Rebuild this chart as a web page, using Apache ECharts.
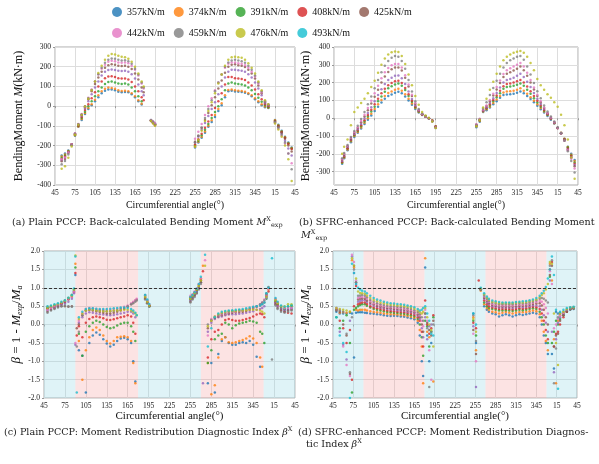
<!DOCTYPE html>
<html>
<head>
<meta charset="utf-8">
<script src="https://cdn.jsdelivr.net/npm/echarts@6/dist/echarts.min.js"></script>
<style>html,body{margin:0;background:#fff}#chart{width:599px;height:464px}</style>
</head>
<body>
<div id="chart"></div>
<script>
// angles are unwrapped: 375 means 15°, 400 means 40°
const angA = [
	55,60,65,70,75,80,85,90,95,100,105,110,115,120,125,130,135,140,145,150,155,160,165,170,175,178,
	189,192,195,
	255,260,265,270,275,280,285,290,295,300,305,310,315,320,325,330,335,340,345,350,355,360,365,
	375,380,385,390,395,400,
]
const a357 = [
	-250,-240,-225,-195,-150,-105,-70,-40,-15,5,25,45,65,78,85,84,80,73,70,72,70,60,45,25,8,null,
	-70,-78,-88,
	-210,-185,-160,-135,-105,-80,-55,-25,5,45,75,78,74,73,72,68,62,50,35,20,5,-5,-10,
	-70,-95,-125,-155,-185,-210,
]
const a374 = [
	-255,-245,-228,-195,-148,-103,-65,-35,-10,10,32,55,75,88,94,92,88,80,77,78,75,65,50,30,12,null,
	-72,-82,-92,
	-205,-180,-155,-128,-100,-72,-45,-15,15,55,82,85,80,78,77,73,66,55,40,25,10,-2,-8,
	-72,-97,-128,-158,-188,-212,
]
const a391 = [
	-262,-250,-230,-195,-145,-100,-60,-28,0,25,50,75,95,112,122,125,120,115,112,115,110,95,75,50,25,null,
	-74,-84,-95,
	-200,-175,-148,-120,-90,-60,-30,0,35,80,115,120,115,112,110,105,95,80,62,42,22,5,-5,
	-75,-100,-130,-160,-190,-215,
]
const a408 = [
	-268,-255,-232,-195,-142,-98,-55,-20,10,40,70,100,125,142,150,152,148,142,140,140,135,122,100,75,45,30,
	-75,-85,-97,
	-195,-168,-140,-110,-78,-45,-10,25,65,110,148,148,142,140,138,132,120,105,85,60,35,10,0,
	-78,-102,-132,-162,-192,-218,
]
const aPurple = [
	-275,-262,-235,-195,-140,-95,-50,-12,25,60,95,125,155,175,183,186,183,180,178,180,175,162,140,110,75,55,
	-72,-80,-90,
	-185,-155,-120,-85,-50,-15,20,60,100,145,175,185,185,182,180,175,162,145,120,90,55,15,3,
	-80,-108,-140,-175,-215,-250,
]
const a425 = [
	-280,-268,-238,-196,-140,-93,-45,-5,35,75,112,145,175,195,208,212,210,205,204,205,200,188,165,135,95,70,
	-73,-82,-92,
	-180,-150,-110,-70,-35,5,45,90,130,170,200,210,212,208,205,198,185,165,140,105,65,20,5,
	-80,-105,-135,-165,-200,-230,
]
const a442 = [
	-270,-260,-235,-195,-138,-90,-40,0,42,85,125,160,190,210,225,230,228,222,220,222,218,205,185,155,115,90,
	-70,-78,-86,
	-165,-130,-90,-45,0,40,80,120,160,195,215,222,222,218,215,208,195,175,150,115,70,25,8,
	-85,-115,-150,-190,-240,-290,
]
const a459 = [
	-295,-278,-245,-198,-140,-92,-42,0,40,82,125,162,195,220,235,242,240,235,232,233,228,215,190,160,120,95,
	-72,-82,-95,
	-185,-150,-110,-60,-15,30,75,120,160,200,222,232,235,232,228,220,205,185,155,120,75,25,8,
	-82,-110,-145,-185,-240,-320,
]
const a476 = [
	-318,-305,-262,-205,-145,-95,-45,-2,38,80,125,168,205,235,255,265,262,255,250,248,240,225,200,165,125,100,
	-75,-88,-100,
	-205,-170,-125,-75,-25,20,65,115,160,205,235,248,250,248,245,235,218,195,165,125,80,30,10,
	-88,-118,-155,-200,-270,-380,
]
const a493 = []

const angB = [
	57,60,65,70,75,80,85,90,95,100,105,110,115,120,125,130,135,140,145,150,155,160,165,170,175,180,185,190,195,
	255,260,265,270,275,280,285,290,295,300,305,310,315,320,325,330,335,340,345,350,355,360,365,370,375,380,385,390,395,400,
]
const b357 = [
	-255,-225,-180,-135,-105,-82,-58,-32,-8,15,40,65,88,110,125,133,143,148,140,122,100,75,52,32,18,8,0,-12,-45,
	-50,-20,35,45,60,78,95,115,130,133,135,138,143,150,140,125,108,90,70,50,32,12,-8,-30,-55,-82,-115,-160,-200,-235,
]
const b374 = [
	-250,-220,-175,-130,-100,-78,-52,-25,0,25,52,78,102,125,142,150,160,165,155,135,110,82,57,35,20,10,0,-12,-45,
	-45,-15,38,50,65,85,105,125,145,150,152,155,160,168,155,138,118,98,78,58,38,18,-5,-28,-55,-82,-115,-162,-205,-240,
]
const b391 = [
	-248,-218,-170,-125,-95,-72,-45,-18,10,38,65,95,122,148,168,180,190,195,182,158,125,92,62,38,22,10,0,-15,-48,
	-42,-12,40,55,72,95,118,140,165,175,178,182,188,195,182,160,138,112,88,65,42,20,-3,-27,-55,-84,-118,-165,-210,-248,
]
const b408 = [
	-245,-215,-168,-122,-92,-68,-40,-12,18,48,78,110,140,165,185,198,207,210,198,170,135,98,66,40,22,10,0,-15,-48,
	-40,-10,42,58,78,102,128,155,180,192,195,200,207,215,200,178,152,125,98,72,46,22,-2,-26,-55,-85,-120,-170,-212,-255,
]
const bPurple = [
	-240,-210,-162,-118,-88,-62,-32,-2,30,62,95,130,163,192,215,228,238,240,225,192,150,108,72,42,22,10,0,-15,-50,
	-38,-8,44,62,85,112,142,172,200,215,220,228,238,250,232,205,175,142,110,80,52,25,0,-25,-55,-85,-122,-175,-218,-262,
]
const b425 = [
	-235,-205,-158,-115,-82,-55,-22,10,45,82,120,160,200,235,260,275,285,285,268,228,178,125,80,45,22,10,0,-15,-50,
	-35,-5,46,68,95,128,162,198,232,250,258,268,278,290,270,238,200,162,125,90,58,28,2,-24,-55,-86,-125,-178,-222,-270,
]
const b442 = [
	-230,-200,-155,-110,-78,-50,-15,20,58,98,140,182,225,258,282,298,305,305,285,242,190,132,85,47,24,10,0,-15,-52,
	-35,-5,48,72,102,138,175,212,248,270,280,290,300,310,290,255,215,172,132,95,60,30,4,-22,-55,-86,-126,-180,-228,-282,
]
const b459 = [
	-225,-195,-150,-105,-72,-42,-5,35,78,122,168,215,258,295,322,340,350,345,322,278,215,150,95,52,26,12,0,-18,-55,
	-40,-8,55,90,130,170,210,250,285,310,325,335,345,350,328,290,245,198,152,112,72,38,10,-18,-50,-84,-126,-185,-240,-305,
]
const b476 = [
	-200,-160,-120,-40,35,60,85,110,140,175,210,255,300,335,358,370,375,372,350,305,245,185,125,75,35,15,2,-18,-55,
	-45,-10,60,110,160,205,250,290,325,345,358,368,374,378,368,345,310,270,220,185,160,135,115,90,65,20,-40,-120,-220,-340,
]
const b493 = []

const angC = [
	50,55,60,65,70,75,80,85,
	88,90,92,
	95,100,105,110,115,120,125,130,135,140,145,150,155,160,165,170,173,176,178,
	190,193,196,
	255,258,261,264,267,270,273,276,
	280,285,290,295,300,305,310,315,320,325,330,335,340,345,350,355,358,361,
	364,367,372,
	377,380,385,390,395,400,
]
const c357 = [
	0.45,0.47,0.5,0.53,0.57,0.62,0.7,0.8,
	0.9,1.35,null,
	-0.7,-0.85,-1.85,-0.5,-0.3,-0.22,-0.28,-0.4,-0.52,-0.6,-0.55,-0.45,-0.38,-0.36,-0.4,-0.5,-1.0,-1.55,null,
	0.8,0.65,0.5,
	0.7,0.75,0.82,0.9,1.0,1.15,null,null,
	-1.6,-1.05,-1.85,-0.8,-0.45,-0.35,-0.5,-0.55,-0.55,-0.5,-0.48,-0.5,-0.45,-0.55,-0.88,-1.15,null,null,
	0.75,null,null,
	0.65,0.58,0.45,0.4,0.42,0.45,
]
const c374 = [
	0.48,0.5,0.52,0.55,0.58,0.63,0.72,0.8,
	0.95,1.65,null,
	-0.45,-1.5,-0.7,-0.35,-0.15,-0.08,-0.15,-0.3,-0.45,-0.52,-0.45,-0.35,-0.33,-0.32,-0.35,-0.45,-1.05,-1.6,null,
	0.78,0.62,0.52,
	0.72,0.78,0.85,0.95,1.05,1.25,1.6,null,
	-1.05,-1.9,-1.65,-0.9,-0.4,-0.35,-0.48,-0.5,-0.48,-0.45,-0.42,-0.38,-0.32,-0.38,-0.5,-0.9,-1.15,null,
	0.8,0.95,null,
	0.68,0.6,0.5,0.45,0.48,0.5,
]
const c391 = [
	0.44,0.47,0.5,0.53,0.57,0.62,0.7,0.78,
	0.92,1.55,null,
	-0.25,-0.85,-0.2,-0.05,0.05,0.1,0.07,0.0,-0.07,-0.1,-0.08,-0.03,0.02,0.05,0.05,-0.05,-0.2,-0.45,null,
	0.75,0.6,0.5,
	0.68,0.75,0.82,0.92,1.02,1.2,null,null,
	-1.05,-0.7,-0.4,-0.3,-0.25,0.05,0.0,-0.1,-0.02,0.03,0.05,0.07,0.1,0.08,0.05,-0.2,-0.25,-0.5,
	0.7,null,null,
	0.62,0.55,0.45,0.42,0.48,0.52,
]
const c408 = [
	0.42,0.45,0.49,0.52,0.56,0.6,0.68,0.75,
	0.88,1.4,-0.3,
	-0.05,-0.35,0.05,0.15,0.2,0.22,0.2,0.17,0.13,0.12,0.14,0.17,0.2,0.22,0.25,0.22,0.05,-0.25,null,
	0.72,0.6,0.52,
	0.75,0.8,0.88,0.95,1.08,1.22,1.45,null,
	-0.9,-0.4,-0.2,-0.15,0.0,0.12,0.15,0.12,0.1,0.1,0.12,0.15,0.18,0.22,0.27,0.3,0.28,0.2,
	0.78,0.9,null,
	0.6,0.52,0.4,0.35,0.32,0.3,
]
const cPurple = [
	0.38,0.42,0.46,0.5,0.53,0.57,0.62,0.7,
	0.85,-0.55,null,
	0.05,0.2,0.3,0.33,0.32,0.3,0.28,0.27,0.26,0.25,0.26,0.28,0.3,0.32,0.35,0.35,0.3,0.2,null,
	null,null,null,
	0.65,0.72,0.8,0.88,1.0,null,-1.6,null,
	-0.2,0.05,0.15,0.2,0.22,0.25,0.27,0.28,0.28,0.29,0.3,0.32,0.34,0.36,0.4,0.42,0.45,0.5,
	0.72,null,null,
	0.58,0.5,0.42,0.38,0.4,0.42,
]
const c425 = [
	0.35,0.4,0.44,0.48,0.5,0.5,0.48,0.5,
	null,null,-0.1,
	0.0,0.25,0.38,0.4,0.38,0.36,0.34,0.32,0.3,0.3,0.32,0.35,0.38,0.42,0.48,0.55,0.6,0.65,0.68,
	0.7,0.58,0.5,
	0.62,0.7,0.78,0.85,0.98,1.15,null,null,
	-0.1,0.1,0.18,0.22,0.25,0.28,0.3,0.32,0.33,0.34,0.35,0.37,0.4,0.43,0.48,0.52,0.56,0.6,
	0.85,1.0,null,
	0.55,0.45,0.38,0.35,0.38,0.4,
]
const c442 = [
	0.4,0.45,0.5,0.55,0.6,0.65,0.7,0.75,
	0.9,-0.5,null,
	0.1,0.3,0.42,0.45,0.44,0.42,0.4,0.4,0.4,0.4,0.42,0.43,0.45,0.48,0.52,0.58,0.62,0.66,0.7,
	0.78,0.65,0.55,
	0.78,0.82,0.9,0.98,1.1,1.25,null,1.75,
	-0.3,0.15,0.22,0.25,0.28,0.3,0.33,0.35,0.35,0.37,0.38,0.4,0.42,0.46,0.5,0.55,0.6,0.68,
	0.8,0.97,null,
	0.7,0.6,0.5,0.45,0.45,0.45,
]
const c459 = [
	0.32,0.38,0.42,0.46,0.5,0.52,0.5,0.48,
	null,null,-0.6,
	-0.2,0.25,0.38,0.4,0.4,0.39,0.38,0.37,0.36,0.36,0.37,0.39,0.42,0.45,0.5,0.55,0.58,0.62,0.65,
	0.68,0.58,0.5,
	0.6,0.68,0.75,0.85,0.95,1.1,null,null,
	0.0,0.12,0.2,0.26,0.3,0.32,0.35,0.36,0.37,0.38,0.39,0.41,0.43,0.46,0.5,0.55,0.6,0.65,
	0.82,1.02,-0.95,
	0.52,0.42,0.35,0.32,0.35,0.38,
]
const c476 = [
	0.45,0.5,0.53,0.56,0.6,0.65,0.72,0.78,
	0.95,1.88,null,
	0.15,0.3,0.38,0.4,0.4,0.38,0.37,0.36,0.36,0.37,0.38,0.38,0.39,0.4,0.4,0.38,0.35,0.3,0.25,
	0.75,0.62,0.52,
	0.7,0.78,0.85,0.95,1.05,1.2,null,1.6,
	-0.05,0.1,0.22,0.28,0.32,0.35,0.36,0.37,0.37,0.38,0.38,0.39,0.4,0.4,0.4,0.38,0.35,0.3,
	0.75,null,null,
	0.65,0.58,0.5,0.5,0.55,0.55,
]
const c493 = [
	0.5,0.52,0.55,0.58,0.62,0.66,0.73,0.8,
	0.98,1.85,-1.85,
	0.2,0.35,0.42,0.44,0.44,0.43,0.42,0.42,0.42,0.43,0.44,0.45,0.46,0.46,0.45,0.42,0.38,0.32,0.25,
	0.8,0.68,0.56,
	0.75,0.8,0.88,0.97,1.1,1.3,null,1.9,
	-0.6,-0.1,0.2,0.3,0.35,0.37,0.38,0.39,0.4,0.41,0.42,0.44,0.46,0.48,0.5,0.52,0.55,0.6,
	0.85,1.0,1.8,
	0.72,0.62,0.52,0.48,0.5,0.52,
]

const angD = [
	50,55,60,65,70,73,76,79,82,85,88,
	92,95,100,105,110,115,120,125,130,135,140,145,150,155,160,165,170,173,176,178,
	181,184,187,190,193,
	252,256,260,263,
	268,272,275,280,285,290,295,300,305,310,315,320,325,330,335,340,345,350,353,356,359,362,
	365,368,371,374,377,380,385,390,395,400,
]
const d357 = [
	0.35,0.3,0.3,0.3,0.32,0.3,-0.9,0.32,0.33,0.33,0.33,
	0.32,0.31,0.3,0.29,0.28,0.27,0.25,0.24,0.23,0.24,0.23,0.22,0.21,0.19,0.17,0.14,0.05,-0.3,-1.0,-1.4,
	1.55,-0.3,-1.0,-0.5,null,
	0.3,-0.5,null,0.95,
	0.5,0.4,0.35,0.3,0.28,0.22,0.25,0.28,0.25,0.22,0.25,0.28,0.26,0.28,0.3,0.32,0.3,0.2,0.0,-0.3,-0.5,-0.8,
	null,-0.8,-1.2,0.35,0.3,0.32,0.3,0.35,0.4,0.42,
]
const d374 = [
	0.4,0.32,0.33,0.32,0.35,1.75,1.55,0.4,0.38,0.4,0.4,
	0.4,0.38,0.36,0.34,0.33,0.32,0.3,0.29,0.28,0.28,0.27,0.26,0.25,0.23,0.21,0.18,0.1,-0.15,-0.6,-1.6,
	1.8,-0.2,-0.35,null,-1.55,
	0.2,-0.7,null,0.92,
	0.55,0.45,0.4,0.35,0.33,0.3,0.32,0.34,0.32,0.3,0.32,0.34,0.33,0.34,0.36,0.38,0.36,0.28,0.1,-0.2,-0.45,-0.7,
	1.65,1.2,-0.4,-1.6,0.1,0.25,0.3,0.38,0.42,0.44,
]
const d391 = [
	0.2,-0.1,0.1,0.25,-0.5,-1.85,0.4,0.45,0.5,0.53,0.55,
	0.55,0.51,0.46,0.42,0.4,0.38,0.36,0.34,0.33,0.32,0.31,0.3,0.29,0.27,0.25,0.22,0.15,0.0,-0.35,-0.85,
	0.1,-0.05,-0.6,-0.2,0.2,
	0.1,-0.3,null,0.95,
	0.6,0.5,0.45,0.42,0.4,0.38,0.38,0.39,0.38,0.37,0.38,0.4,0.39,0.4,0.42,0.44,0.42,0.35,0.2,0.0,-0.3,-0.5,
	1.3,-0.5,-0.2,0.1,0.0,0.15,0.25,0.35,0.42,0.45,
]
const d408 = [
	0.42,0.1,-0.1,-0.5,-0.15,-1.5,0.5,1.05,0.55,0.58,0.6,
	0.6,0.56,0.5,0.46,0.44,0.42,0.4,0.38,0.37,0.36,0.35,0.34,0.33,0.31,0.29,0.26,0.2,0.1,-0.2,-0.6,
	0.65,0.0,-0.25,-0.1,0.25,
	0.05,-0.1,1.2,0.97,
	0.65,0.55,0.5,0.46,0.44,0.42,0.42,0.42,0.42,0.41,0.42,0.44,0.43,0.44,0.46,0.48,0.47,0.42,0.3,0.1,-0.15,-0.4,
	1.5,1.7,-0.6,-0.25,-0.2,0.0,0.2,0.35,0.42,0.45,
]
const dPurple = [
	0.45,-0.2,-0.55,-0.95,0.1,1.85,1.4,1.1,0.62,0.64,0.66,
	0.66,0.61,0.55,0.51,0.48,0.46,0.44,0.42,0.41,0.4,0.39,0.38,0.37,0.35,0.33,0.3,0.24,0.15,-0.1,-0.35,
	0.2,-0.4,-0.05,0.0,null,
	-0.05,-1.7,null,0.95,
	0.7,0.6,0.55,0.5,0.48,0.46,0.46,0.46,0.46,0.45,0.46,0.48,0.47,0.48,0.5,0.52,0.52,0.5,0.4,0.25,0.05,-0.2,
	1.2,-0.2,-1.3,-0.4,0.05,0.2,0.28,0.38,0.44,0.46,
]
const d425 = [
	0.38,0.35,0.0,-0.3,-1.35,null,1.6,1.15,0.68,0.7,0.71,
	0.7,0.65,0.59,0.55,0.51,0.49,0.47,0.45,0.44,0.43,0.42,0.41,0.4,0.38,0.36,0.33,0.27,0.2,0.0,-0.2,
	0.3,0.05,-0.15,-0.3,0.1,
	-0.15,-0.8,null,0.96,
	0.73,0.64,0.58,0.53,0.51,0.49,0.49,0.49,0.49,0.49,0.5,0.51,0.51,0.52,0.54,0.56,0.57,0.58,0.52,0.4,0.2,0.0,
	1.35,1.6,-0.6,-0.3,-0.25,0.1,0.25,0.35,0.42,0.45,
]
const d442 = [
	0.44,0.4,-0.6,-1.1,-1.4,1.9,1.7,1.2,0.72,0.74,0.75,
	0.75,0.7,0.63,0.58,0.55,0.52,0.5,0.48,0.47,0.46,0.45,0.44,0.43,0.41,0.39,0.36,0.31,0.25,0.1,-0.05,
	0.4,0.1,-0.7,-1.5,null,
	-0.25,-1.0,null,0.97,
	0.76,0.67,0.61,0.56,0.54,0.52,0.52,0.52,0.52,0.52,0.53,0.54,0.54,0.55,0.57,0.59,0.61,0.64,0.62,0.55,0.45,0.3,
	1.45,1.1,-0.1,0.0,0.15,0.25,0.32,0.4,0.45,0.46,
]
const d459 = [
	0.4,0.38,0.35,-0.25,-1.3,0.2,1.5,1.15,0.78,0.79,0.8,
	0.79,0.74,0.67,0.62,0.58,0.55,0.53,0.51,0.5,0.49,0.48,0.47,0.46,0.44,0.42,0.39,0.34,0.28,0.2,0.1,
	0.3,-0.1,-1.7,-0.2,0.0,
	0.25,-0.45,null,0.96,
	0.79,0.7,0.64,0.59,0.57,0.55,0.55,0.55,0.55,0.55,0.56,0.57,0.57,0.58,0.6,0.62,0.65,0.7,0.72,0.7,0.65,0.6,
	1.6,1.75,-1.6,-0.65,0.2,0.3,0.35,0.4,0.43,0.45,
]
const d476 = [
	0.45,0.42,0.4,0.38,0.35,1.8,1.6,1.25,0.9,0.86,0.85,
	0.84,0.79,0.72,0.67,0.63,0.6,0.58,0.56,0.54,0.53,0.52,0.51,0.5,0.48,0.46,0.43,0.38,0.33,0.3,0.35,
	0.45,0.2,0.0,-0.15,-0.6,
	0.15,-0.2,null,0.98,
	0.82,0.73,0.67,0.62,0.6,0.58,0.58,0.58,0.58,0.58,0.59,0.6,0.6,0.61,0.63,0.65,0.68,0.74,0.8,0.85,0.95,1.1,
	1.7,1.65,0.3,-0.5,-1.1,0.3,0.35,0.42,0.46,0.47,
]
const d493 = [
	0.2,-0.3,-0.5,-0.75,-2.0,1.65,1.4,1.1,1.0,0.95,0.92,
	0.9,0.85,0.78,0.72,0.68,0.65,0.62,0.6,0.58,0.57,0.56,0.55,0.54,0.52,0.5,0.47,0.42,0.38,0.4,0.45,
	0.5,0.3,0.1,-0.25,-0.3,
	0.3,0.0,null,1.0,
	0.85,0.76,0.7,0.65,0.63,0.61,0.6,0.6,0.6,0.6,0.61,0.62,0.63,0.64,0.66,0.68,0.72,0.78,0.85,0.92,1.02,1.25,
	1.5,1.85,1.35,0.4,-1.75,0.35,0.4,0.45,0.47,0.48,
]

// tick values for panel (b), whose axis starts below its lowest label
const bTicks = [-300, -200, -100, 0, 100, 200, 300, 400]

// series order follows the tab10 colours; the purple one has no legend entry
const names = ['357kN/m', '374kN/m', '391kN/m', '408kN/m', 'purple', '425kN/m', '442kN/m', '459kN/m', '476kN/m', '493kN/m']
const colors = ['#1f77b4', '#ff7f0e', '#2ca02c', '#d62728', '#9467bd', '#8c564b', '#e377c2', '#7f7f7f', '#bcbd22', '#17becf']
const legendRow1 = ['357kN/m', '374kN/m', '391kN/m', '408kN/m', '425kN/m']
const legendRow2 = ['442kN/m', '459kN/m', '476kN/m', '493kN/m']

const panels = [
	{ ang: angA, vals: [a357, a374, a391, a408, aPurple, a425, a442, a459, a476, a493] },
	{ ang: angB, vals: [b357, b374, b391, b408, bPurple, b425, b442, b459, b476, b493] },
	{ ang: angC, vals: [c357, c374, c391, c408, cPurple, c425, c442, c459, c476, c493] },
	{ ang: angD, vals: [d357, d374, d391, d408, dPurple, d425, d442, d459, d476, d493] },
]
const bandEdges = [45, 90, 180, 270, 360, 405]

const FONT = 'Liberation Serif'
const CAP = 'DejaVu Serif'

const toPts = (ang, vals) => ang.map((a, i) => (vals[i] == null ? null : [a - 45, vals[i]])).filter((p) => p)

const grids = [
	{ left: 55, top: 47, width: 240, height: 138 },
	{ left: 334, top: 47, width: 244, height: 138 },
	{ left: 44, top: 251, width: 251, height: 147 },
	{ left: 333, top: 251, width: 244, height: 147 },
].map((g) => ({ ...g, show: true, borderColor: '#aaa', borderWidth: 1 }))

const xAxes = grids.map((g, k) => ({
	gridIndex: k,
	type: 'value',
	min: 0,
	max: 360,
	interval: 30,
	name: 'Circumferential angle(°)',
	nameLocation: 'middle',
	nameGap: k < 2 ? 15 : 13,
	nameTextStyle: { fontFamily: FONT, fontSize: k < 2 ? 10 : 11, color: '#111' },
	axisLine: { show: false },
	axisTick: { show: true, length: 2, lineStyle: { color: '#999' } },
	axisLabel: { formatter: (v) => String((v + 45) % 360), fontFamily: FONT, fontSize: 7.5, color: '#222', margin: 4 },
	splitLine: { show: true, lineStyle: { color: '#ddd' } },
}))

const yBase = {
	type: 'value',
	nameLocation: 'middle',
	axisLine: { show: false },
	axisTick: { show: true, length: 2, lineStyle: { color: '#999' } },
	splitLine: { show: true, lineStyle: { color: '#ddd' } },
}
const momentName = {
	name: 'BendingMoment {i|M}(kN·m)',
	nameTextStyle: { fontFamily: FONT, fontSize: 12, color: '#111', rich: { i: { fontFamily: FONT, fontSize: 12, fontStyle: 'italic' } } },
}
const betaName = {
	name: '{i|β} = 1 - {i|M}{s|exp}/{i|M}{s|a}',
	nameTextStyle: {
		fontFamily: FONT, fontSize: 13, color: '#111',
		rich: {
			i: { fontFamily: FONT, fontSize: 13, fontStyle: 'italic', lineHeight: 16 },
			s: { fontFamily: FONT, fontSize: 8, fontStyle: 'italic', lineHeight: 8, verticalAlign: 'bottom' },
		},
	},
}
const tickFont = { fontFamily: FONT, fontSize: 7.5, color: '#222', margin: 4 }
const yAxes = [
	{ ...yBase, ...momentName, gridIndex: 0, min: -400, max: 300, interval: 100, nameGap: 30, axisLabel: tickFont },
	{
		...yBase, ...momentName, gridIndex: 1, min: -375, max: 400, nameGap: 22,
		axisTick: { ...yBase.axisTick, customValues: bTicks },
		axisLabel: { ...tickFont, customValues: bTicks },
	},
	{ ...yBase, ...betaName, gridIndex: 2, min: -2, max: 2, interval: 0.5, nameGap: 19, axisLabel: { ...tickFont, formatter: (v) => v.toFixed(1) } },
	{ ...yBase, ...betaName, gridIndex: 3, min: -2, max: 2, interval: 0.5, nameGap: 19, axisLabel: { ...tickFont, formatter: (v) => v.toFixed(1) } },
]

const series = []
panels.forEach((p, k) => {
	if (k >= 2) {
		series.push({
			name: 'bands',
			type: 'scatter',
			xAxisIndex: k,
			yAxisIndex: k,
			data: [],
			z: 1,
			silent: true,
			markArea: {
				silent: true,
				data: bandEdges.slice(0, -1).map((e, i) => [
					{ xAxis: e - 45, itemStyle: { color: i % 2 ? 'rgba(245,150,150,0.27)' : 'rgba(150,215,230,0.3)' } },
					{ xAxis: bandEdges[i + 1] - 45 },
				]),
			},
			markLine: {
				silent: true,
				symbol: 'none',
				label: { show: false },
				lineStyle: { color: '#333', type: [3, 2], width: 1 },
				data: [{ yAxis: 1 }],
			},
		})
	}
	p.vals.forEach((v, j) => {
		series.push({
			name: names[j],
			type: 'scatter',
			xAxisIndex: k,
			yAxisIndex: k,
			symbolSize: 2.5,
			itemStyle: { color: colors[j] },
			data: toPts(p.ang, v),
		})
	})
})

const capRich = {
	i: { fontFamily: CAP, fontSize: 9.6, fontStyle: 'italic', lineHeight: 13 },
	sup: { fontFamily: CAP, fontSize: 6.5, lineHeight: 6, verticalAlign: 'top' },
	sub: { fontFamily: CAP, fontSize: 6.5, lineHeight: 6, verticalAlign: 'bottom' },
}
const cap = (text, left, top) => ({
	text,
	left,
	top,
	padding: 0,
	textStyle: { fontFamily: CAP, fontSize: 9.6, fontWeight: 'normal', color: '#222', lineHeight: 13, rich: capRich },
})

const legendBase = {
	icon: 'circle',
	itemWidth: 10,
	itemHeight: 10,
	itemGap: 9,
	padding: 0,
	textStyle: { fontFamily: FONT, fontSize: 10, color: '#111' },
}

const myChart = echarts.init(document.getElementById('chart'), null, { renderer: 'canvas' })
myChart.setOption({
	animation: false,
	backgroundColor: '#fff',
	legend: [
		{ ...legendBase, data: legendRow1, left: 112, top: 7 },
		{ ...legendBase, data: legendRow2, left: 112, top: 28 },
	],
	title: [
		cap('(a) Plain PCCP: Back-calculated Bending Moment {i|M}{sup|X}{sub|exp}', 12, 216),
		cap('(b) SFRC-enhanced PCCP: Back-calculated Bending Moment', 299, 216),
		cap('{i|M}{sup|X}{sub|exp}', 301, 229),
		cap('(c) Plain PCCP: Moment Redistribution Diagnostic Index {i|β}{sup|X}', 4, 426),
		cap('(d) SFRC-enhanced PCCP: Moment Redistribution Diagnos-', 298, 426),
		cap('tic Index {i|β}{sup|X}', 306, 438),
	],
	grid: grids,
	xAxis: xAxes,
	yAxis: yAxes,
	series,
})

window.addEventListener('resize', () => {
	myChart.resize()
})
</script>
</body>
</html>
